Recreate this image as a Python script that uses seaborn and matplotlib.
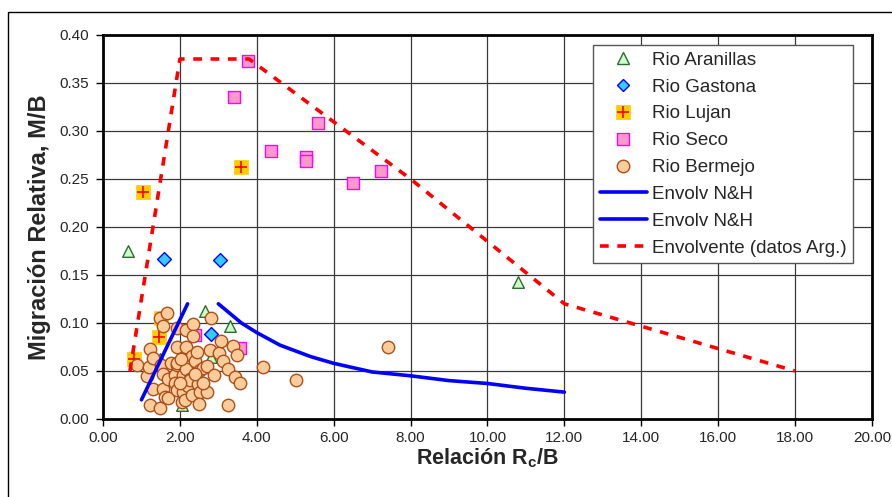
import matplotlib
matplotlib.use("Agg")
import matplotlib.pyplot as plt
import seaborn as sns
import numpy as np
from matplotlib.patches import Rectangle
from matplotlib.lines import Line2D
from matplotlib.legend_handler import HandlerTuple

# ---------------- data ----------------
aran_x = [0.65, 1.48, 2.05, 2.15, 2.35, 2.65, 2.80, 3.30, 10.80]
aran_y = [0.175, 0.062, 0.015, 0.068, 0.053, 0.113, 0.065, 0.097, 0.143]

gast_x = [1.59, 3.04, 2.80]
gast_y = [0.167, 0.166, 0.089]

luj_x = [0.80, 1.03, 1.45, 1.50, 3.60]
luj_y = [0.063, 0.236, 0.085, 0.105, 0.263]

seco_x = [3.77, 3.41, 5.60, 4.36, 5.28, 5.28, 7.23, 6.50, 2.39, 3.57]
seco_y = [0.373, 0.335, 0.308, 0.279, 0.273, 0.269, 0.258, 0.246, 0.088, 0.074]

berm_x = [0.88, 1.14, 1.20, 1.22, 1.31, 1.22, 1.29, 1.47, 1.48, 1.52,
          1.57, 1.57, 1.57, 1.61, 1.66, 1.69, 1.70, 1.77, 1.87, 1.87,
          1.92, 1.92, 1.93, 1.93, 1.93, 2.05, 2.07, 2.09, 2.13, 2.16,
          2.16, 2.16, 2.22, 2.25, 2.26, 2.31, 2.31, 2.33, 2.35, 2.39,
          2.48, 2.52, 2.52, 2.50, 2.61, 2.70, 2.71, 2.78, 2.82, 2.89,
          3.01, 3.06, 3.11, 3.26, 3.26, 3.37, 3.43, 3.48, 3.56, 4.15,
          5.02, 7.42, 2.00, 2.40, 2.60, 2.02, 2.45]
berm_y = [0.056, 0.045, 0.054, 0.073, 0.064, 0.015, 0.031, 0.105, 0.011, 0.056,
          0.097, 0.047, 0.031, 0.023, 0.110, 0.022, 0.042, 0.058, 0.046, 0.037,
          0.056, 0.030, 0.095, 0.075, 0.058, 0.018, 0.028, 0.046, 0.020, 0.093,
          0.075, 0.052, 0.034, 0.042, 0.041, 0.066, 0.025, 0.099, 0.086, 0.060,
          0.036, 0.051, 0.028, 0.016, 0.053, 0.055, 0.028, 0.072, 0.105, 0.046,
          0.069, 0.081, 0.060, 0.052, 0.015, 0.076, 0.044, 0.067, 0.037, 0.054,
          0.041, 0.075, 0.038, 0.047, 0.038, 0.062, 0.070]

nh1_x = [1.0, 2.2]
nh1_y = [0.020, 0.120]

nh2_x = [3.0, 3.3, 3.6, 4.0, 4.6, 5.4, 6.0, 7.0, 8.0, 9.0, 10.0, 11.0, 12.0]
nh2_y = [0.120, 0.110, 0.100, 0.090, 0.077, 0.065, 0.058, 0.049, 0.045, 0.040, 0.037, 0.032, 0.028]

env_x = [0.7, 2.0, 3.8, 8.0, 12.0, 18.0]
env_y = [0.050, 0.375, 0.375, 0.250, 0.120, 0.050]

x_ticks = [0, 2, 4, 6, 8, 10, 12, 14, 16, 18, 20]
y_ticks = [0.00, 0.05, 0.10, 0.15, 0.20, 0.25, 0.30, 0.35, 0.40]

labels = ["Rio Aranillas", "Rio Gastona", "Rio Lujan", "Rio Seco", "Rio Bermejo",
          "Envolv N&H", "Envolv N&H", "Envolvente (datos Arg.)"]

# ---------------- style ----------------
sns.set_style("white")
plt.rcParams['font.family'] = ['Liberation Sans', 'DejaVu Sans']
plt.rcParams['mathtext.fontset'] = 'custom'
plt.rcParams['mathtext.rm'] = 'Liberation Sans'
plt.rcParams['mathtext.bf'] = 'Liberation Sans:bold'

fig = plt.figure(figsize=(8.92, 4.97), dpi=100)
ax = fig.add_axes([103/892, 78/497, 769/892, 384/497])

# outer frame (cropped on right/bottom)
fig.patches.append(Rectangle((8/892, -0.2), 1.2, 1.2 - 12/497,
                             transform=fig.transFigure, fill=False,
                             edgecolor='black', linewidth=1.0, zorder=0))

# scatter series
sns.scatterplot(x=aran_x, y=aran_y, ax=ax, marker='^', s=70, color='#ccffcc',
                edgecolor='#2e6b2e', linewidth=1.0, zorder=3)
sns.scatterplot(x=gast_x, y=gast_y, ax=ax, marker='D', s=50, color='#33ccff',
                edgecolor='#0000ff', linewidth=1.0, zorder=3)
sns.scatterplot(x=luj_x, y=luj_y, ax=ax, marker='s', s=105, color='#ffcc00',
                edgecolor='#ffcc00', linewidth=0.5, zorder=3)
sns.scatterplot(x=luj_x, y=luj_y, ax=ax, marker='+', s=85, color='#ff0000',
                linewidth=1.2, zorder=3.1)
sns.scatterplot(x=seco_x, y=seco_y, ax=ax, marker='s', s=70, color='#ff99cc',
                edgecolor='#ff00ff', linewidth=1.0, zorder=3.2)
sns.scatterplot(x=berm_x, y=berm_y, ax=ax, marker='o', s=80, color='#ffcc99',
                edgecolor='#a8501c', linewidth=1.0, zorder=3.3)

# lines
sns.lineplot(x=nh1_x, y=nh1_y, ax=ax, sort=False, estimator=None,
             color='#0000ff', linewidth=2.6, zorder=4)
sns.lineplot(x=nh2_x, y=nh2_y, ax=ax, sort=False, estimator=None,
             color='#0000ff', linewidth=2.6, zorder=4)
sns.lineplot(x=env_x, y=env_y, ax=ax, sort=False, estimator=None,
             color='#ff0000', linewidth=2.6, zorder=4)
ax.lines[-1].set_dashes([2.4, 2.4])

# axes formatting
ax.set_xlim(0, 20)
ax.set_ylim(0, 0.40)
ax.set_xticks(x_ticks)
ax.set_yticks(y_ticks)
ax.set_xticklabels([f"{v:.2f}" for v in x_ticks])
ax.set_yticklabels([f"{v:.2f}" for v in y_ticks])
ax.grid(True, color='#3a3a3a', linewidth=0.9)
ax.set_axisbelow(True)
for sp in ax.spines.values():
    sp.set_visible(True)
    sp.set_color('black')
    sp.set_linewidth(2.0)
ax.tick_params(axis='both', direction='out', length=5, width=1, color='black',
               labelsize=11, bottom=True, left=True)
ax.tick_params(axis='y', pad=5)
ax.tick_params(axis='x', pad=4)

ax.set_xlabel(r"Relación $\mathbf{R_c}$/B", fontsize=15.5, fontweight='bold', labelpad=1)
ax.set_ylabel("Migración Relativa, M/B", fontsize=17, fontweight='bold', labelpad=6)

# legend
def mk(marker, face, edge, size, lw=1.0):
    return Line2D([], [], linestyle='none', marker=marker, markersize=size,
                  markerfacecolor=face, markeredgecolor=edge, markeredgewidth=lw)

h_aran = mk('^', '#ccffcc', '#2e6b2e', 8)
h_gast = mk('D', '#33ccff', '#0000ff', 6.5)
h_luj = (mk('s', '#ffcc00', '#ffcc00', 10, 0.5), mk('+', 'none', '#ff0000', 9, 1.2))
h_seco = mk('s', '#ff99cc', '#ff00ff', 8)
h_berm = mk('o', '#ffcc99', '#a8501c', 9)
h_nh = Line2D([], [], color='#0000ff', linewidth=2.6)
h_env = Line2D([], [], color='#ff0000', linewidth=2.6, dashes=[2.4, 2.4])

leg = ax.legend([h_aran, h_gast, h_luj, h_seco, h_berm, h_nh, h_nh, h_env], labels,
                handler_map={tuple: HandlerTuple(ndivide=1, pad=0)},
                loc='upper right', bbox_to_anchor=(0.975, 0.974), borderaxespad=0,
                fontsize=13.5, frameon=True, fancybox=False, framealpha=1,
                edgecolor='#555555', handlelength=2.5, handletextpad=0.27,
                labelspacing=0.52, borderpad=0.35)
leg.get_frame().set_linewidth(1.0)
leg.set_zorder(10)

fig.savefig("out.png", dpi=100)
